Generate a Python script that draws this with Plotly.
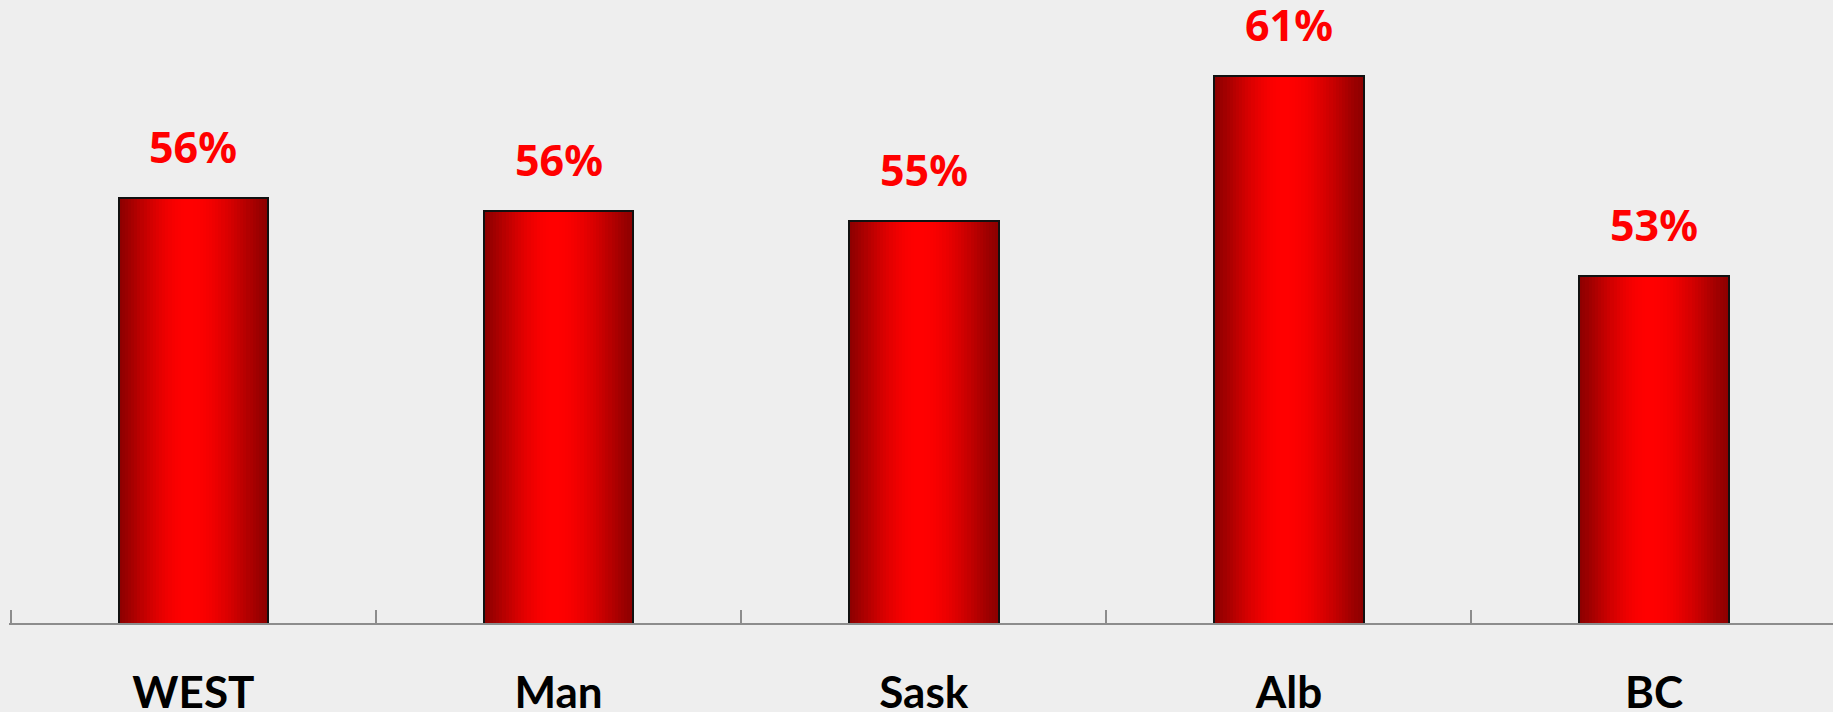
import math
import plotly.graph_objects as go

categories = ["WEST", "Man", "Sask", "Alb", "BC"]
values = [56.0, 55.5, 55.1, 60.9, 52.9]
labels = ["56%", "56%", "55%", "61%", "53%"]

BG = "#eeeeee"
BAR_W = 0.41
N_SLICES = 48


def slice_color(t):
    # dark red at edges, bright red peaking a bit left of centre
    peak = 0.47
    if t <= peak:
        u = t / peak
    else:
        u = (1 - t) / (1 - peak)
    s = math.sin(u * math.pi / 2) ** 1.2
    r = int(round(140 + (255 - 140) * s))
    return f"rgb({r},0,0)"


fig = go.Figure()

sw = BAR_W / N_SLICES
for i in range(N_SLICES):
    t = (i + 0.5) / N_SLICES
    fig.add_trace(go.Bar(
        x=categories, y=values,
        offset=-BAR_W / 2 + i * sw, width=sw * 1.15,
        marker=dict(color=slice_color(t), line=dict(width=0)),
        hoverinfo="skip", showlegend=False, cliponaxis=True,
    ))

fig.add_trace(go.Bar(
    x=categories, y=values, width=BAR_W,
    marker=dict(color="rgba(0,0,0,0)", line=dict(color="#111111", width=2)),
    hoverinfo="skip", showlegend=False,
))

for c, v, lab in zip(categories, values, labels):
    fig.add_annotation(
        x=c, y=v, text=lab, showarrow=False, yanchor="bottom", yshift=20,
        font=dict(family="Noto Sans", size=43, color="#ff0000", weight="bold"),
    )

fig.update_layout(
    width=1833, height=712,
    margin=dict(l=9, r=0, t=0, b=89, autoexpand=False),
    paper_bgcolor=BG, plot_bgcolor=BG,
    barmode="overlay", bargap=0,
    xaxis=dict(
        range=[-0.505, 4.49], showline=True, linecolor="#8c8c8c", linewidth=2,
        ticks="inside", tickson="boundaries", ticklen=13, tickcolor="#8c8c8c",
        tickwidth=1.5, showgrid=False, zeroline=False, automargin=False,
        tickfont=dict(family="Lato", size=44, color="#000000", weight="bold"),
        ticklabelstandoff=30,
    ),
    yaxis=dict(range=[39, 63.92], visible=False, showgrid=False,
               zeroline=False, automargin=False),
)

fig.write_html(
    "out.html",
    config={"displayModeBar": False},
    post_script="document.body.style.margin='0';"
                "document.body.style.background='#eeeeee';",
)
